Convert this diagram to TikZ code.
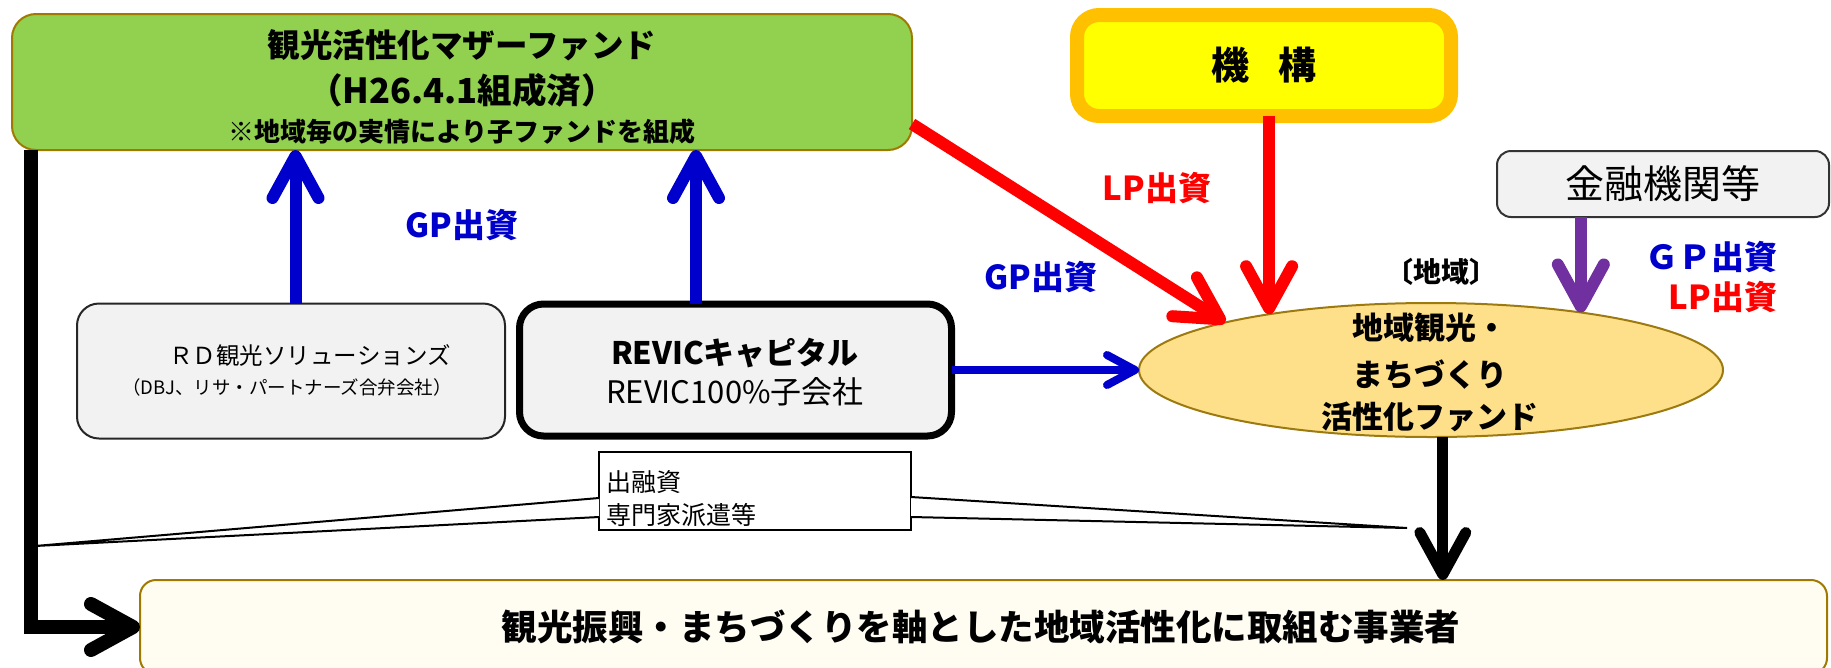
\documentclass[tikz,border=0pt]{standalone}
\usepackage{fontspec}
\setmainfont{Noto Sans CJK JP}
\usetikzlibrary{arrows.meta,shapes.geometric}
\definecolor{mfgreen}{HTML}{92D050}
\definecolor{oliveline}{HTML}{A07A00}
\definecolor{kyellow}{HTML}{FFFF00}
\definecolor{korange}{HTML}{FFC000}
\definecolor{lgray}{HTML}{F2F2F2}
\definecolor{efill}{HTML}{FFE08A}
\definecolor{eline}{HTML}{9C7A10}
\definecolor{ivory}{HTML}{FFFCF2}
\definecolor{gpblue}{HTML}{0000CC}
\definecolor{lpred}{HTML}{FF0000}
\definecolor{purp}{HTML}{7030A0}
\newcommand{\fs}[1]{\fontsize{#1pt}{#1pt}\selectfont}
\begin{document}
\begin{tikzpicture}[x=1pt,y=-1pt,
  every node/.style={inner sep=0pt,outer sep=0pt},
  txt/.style={anchor=center,align=center},
  graybox/.style={draw=black!85,line width=2pt,fill=lgray,rounded corners=22pt},
  bigarr/.style={line width=12pt,-{Straight Barb[length=42pt,width=46pt,round]}},
  bluearr/.style={bigarr,draw=gpblue},
  redarr/.style={bigarr,draw=lpred},
  purparr/.style={bigarr,draw=purp},
  blackarr/.style={bigarr,draw=black,line width=11pt},
  lbl/.style={font=\fs{33}\bfseries},
]
\useasboundingbox (0,0) rectangle (1831,667);

% boxes
\node[draw=oliveline,line width=2pt,fill=mfgreen,rounded corners=24pt,
      minimum width=900pt,minimum height=136pt] (mf) at (462,82) {};
\node[txt,font=\fs{32.5}\bfseries] (mf1) at (462,45) {観光活性化マザーファンド};
\node[txt,font=\fs{34.5}\bfseries] (mf2) at (462,90) {（H26.4.1組成済）};
\node[txt,font=\fs{26}\bfseries] (mf3) at (462,132) {※地域毎の実情により子ファンドを組成};

\node[draw=korange,line width=14pt,fill=kyellow,rounded corners=22pt,
      minimum width=374pt,minimum height=101pt] (kikou) at (1264,65.5) {};
\node[txt,font=\fs{38}\bfseries] (kikoutxt) at (1264,65) {機\hspace{0.75em}構};

\node[draw=black!80,line width=2pt,fill=lgray,rounded corners=14pt,
      minimum width=332pt,minimum height=66pt,font=\fs{39}] (kin) at (1663,184) {金融機関等};

\node[graybox,minimum width=428pt,minimum height=135pt] (rd) at (291,371) {};
\node[txt,font=\fs{23.5}] (rd1) at (310,355) {ＲＤ観光ソリューションズ};
\node[txt,font=\fs{18.5}] (rd2) at (287,387) {（DBJ、リサ・パートナーズ合弁会社）};

\node[draw=black,line width=7pt,fill=lgray,rounded corners=24pt,
      minimum width=432pt,minimum height=132pt] (revic) at (735.5,370) {};
\node[txt,font=\fs{31}\bfseries] (rv1) at (735,353) {REVICキャピタル};
\node[txt,font=\fs{31}] (rv2) at (735,392) {REVIC100\%子会社};

\node[ellipse,draw=eline,line width=2pt,fill=efill,
      minimum width=584pt,minimum height=134pt] (fund) at (1431,370) {};
\node[txt,font=\fs{31}\bfseries] (f1) at (1430,328) {地域観光・};
\node[txt,font=\fs{31}\bfseries] (f2) at (1430,375) {まちづくり};
\node[txt,font=\fs{31}\bfseries] (f3) at (1430,417) {活性化ファンド};
\node[txt,font=\fs{28}\bfseries] (reg) at (1441,272) {〔地域〕};

\node[draw=oliveline,line width=2pt,fill=ivory,rounded corners=16pt,
      minimum width=1687pt,minimum height=94pt] (bot) at (983.5,627) {};
\node[txt,font=\fs{35.5}\bfseries] (bott) at (981,627) {観光振興・まちづくりを軸とした地域活性化に取組む事業者};

% callout
\node[draw=black,line width=2pt,fill=white,minimum width=312pt,minimum height=78pt] (cb) at (755,491) {};
\coordinate (capL) at (35,546);
\coordinate (capR) at (1407,528);
\draw[line width=2pt,fill=white] ([yshift=-7pt]cb.west) -- (capL) -- ([yshift=-26pt]cb.west);
\draw[line width=2pt,fill=white] ([yshift=-6pt]cb.east) -- (capR) -- ([yshift=-26pt]cb.east);
\node[anchor=west,font=\fs{25}] (cb1) at (606,482) {出融資};
\node[anchor=west,font=\fs{25}] (cb2) at (606,515) {専門家派遣等};

% arrows
\coordinate (ux1) at (295.5,0);
\coordinate (ux2) at (696,0);
\coordinate (lx) at (31,0);
\draw[bluearr] (rd.north -| ux1) -- (mf.south -| ux1);
\draw[bluearr] (revic.north -| ux2) -- (mf.south -| ux2);
\draw[draw=gpblue,line width=8pt,-{Straight Barb[length=28pt,width=30pt,round]}] (revic.east) -- (fund.west);
\draw[redarr] ([yshift=-42pt]mf.east) -- (fund.167);
\draw[redarr] (fund.161.7 |- kikou.south) -- (fund.161.7);
\draw[purparr] (fund.21.4 |- kin.south) -- (fund.21.4);
\draw[blackarr] (fund.-80) -- (fund.-80 |- bot.north);
\draw[blackarr,line width=14pt] (mf.south -| lx) -- (lx |- bot.west) -- (bot.west);

% labels
\node[lbl,text=gpblue] (gp1) at (462,225) {GP出資};
\node[lbl,text=gpblue] (gp2) at (1041,277) {GP出資};
\node[lbl,text=lpred] (lp1) at (1157,188) {LP出資};
\node[lbl,text=gpblue,anchor=east] (gp3) at (1777,257) {ＧＰ出資};
\node[lbl,text=lpred,anchor=east] (lp2) at (1777,297) {LP出資};
\end{tikzpicture}
\end{document}
